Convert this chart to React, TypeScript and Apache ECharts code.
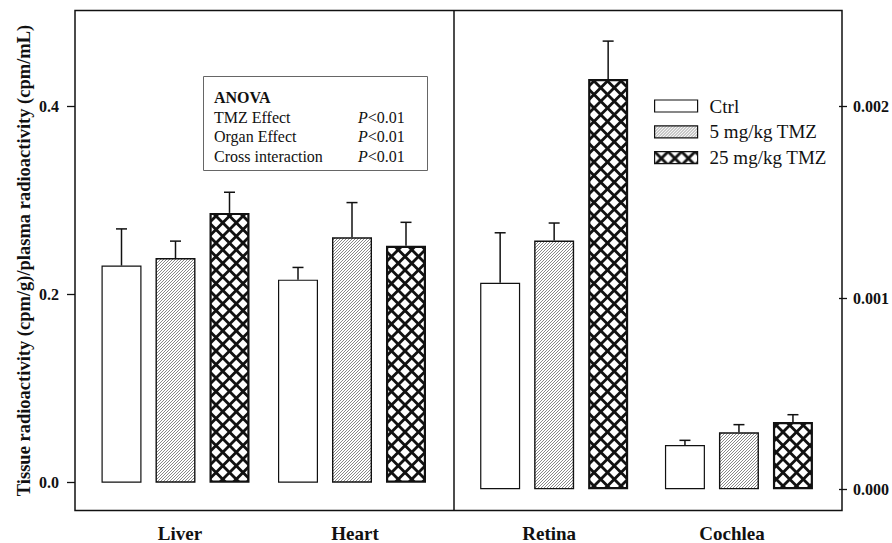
import React, { useEffect, useRef } from "react";
import * as echarts from "echarts";

// ---- data ----
const tissueCategories = ["Liver", "Heart"];
const earCategories = ["Retina", "Cochlea"];
const groupNames = ["Ctrl", "5 mg/kg TMZ", "25 mg/kg TMZ"];

// left axis, order: Liver, Heart
const ctrlTissue = [0.231, 0.216];
const ctrlTissueSem = [0.039, 0.013];
const tmz5Tissue = [0.239, 0.261];
const tmz5TissueSem = [0.018, 0.037];
const tmz25Tissue = [0.287, 0.252];
const tmz25TissueSem = [0.022, 0.025];

// right axis, order: Retina, Cochlea
const ctrlEar = [0.00108, 0.000232];
const ctrlEarSem = [0.000261, 0.000024];
const tmz5Ear = [0.0013, 0.000298];
const tmz5EarSem = [0.000092, 0.00004];
const tmz25Ear = [0.002145, 0.000352];
const tmz25EarSem = [0.000198, 0.000038];

const leftTicks = [0, 0.2, 0.4];
const rightTicks = [0, 0.001, 0.002];

const anovaTitle = "ANOVA";
const anovaEffects = ["TMZ Effect", "Organ Effect", "Cross interaction"];
const anovaP = ["<0.01", "<0.01", "<0.01"];

const yTitle = "Tissue radioactivity (cpm/g)/plasma radioactivity (cpm/mL)";

const FONT = '"Liberation Serif", "Times New Roman", serif';
const INK = "#111";

function makeHatch() {
  const s = 9;
  const c = document.createElement("canvas");
  c.width = s;
  c.height = s;
  const ctx = c.getContext("2d")!;
  ctx.fillStyle = "#fff";
  ctx.fillRect(0, 0, s, s);
  ctx.strokeStyle = "#555";
  ctx.lineWidth = 0.7;
  for (let x0 = -s; x0 <= s; x0 += 3) {
    ctx.beginPath();
    ctx.moveTo(x0, s);
    ctx.lineTo(x0 + s, 0);
    ctx.stroke();
  }
  return c;
}

function makeCross() {
  const s = 27;
  const step = 13.5;
  const c = document.createElement("canvas");
  c.width = s;
  c.height = s;
  const ctx = c.getContext("2d")!;
  ctx.fillStyle = "#fff";
  ctx.fillRect(0, 0, s, s);
  ctx.strokeStyle = INK;
  ctx.lineWidth = 2.8;
  for (let x0 = -s; x0 <= s; x0 += step) {
    ctx.beginPath();
    ctx.moveTo(x0, 0);
    ctx.lineTo(x0 + s, s);
    ctx.stroke();
    ctx.beginPath();
    ctx.moveTo(x0, s);
    ctx.lineTo(x0 + s, 0);
    ctx.stroke();
  }
  return c;
}

export default function App() {
  const ref = useRef<HTMLDivElement>(null);

  useEffect(() => {
    if (!ref.current) return;
    const chart = echarts.init(ref.current, undefined, { renderer: "svg" });

    const hatch = { image: makeHatch(), repeat: "repeat" };
    const cross = { image: makeCross(), repeat: "repeat" };

    const styles = [
      { color: "#fff", borderColor: INK, borderWidth: 1.2 },
      { color: hatch, borderColor: INK, borderWidth: 1.4 },
      { color: cross, borderColor: INK, borderWidth: 2.2 },
    ];

    const tissueVals = [ctrlTissue, tmz5Tissue, tmz25Tissue];
    const tissueSem = [ctrlTissueSem, tmz5TissueSem, tmz25TissueSem];
    const earVals = [ctrlEar, tmz5Ear, tmz25Ear];
    const earSem = [ctrlEarSem, tmz5EarSem, tmz25EarSem];

    const barSeries = (vals: number[][], axis: number) =>
      vals.map((v, i) => ({
        type: "bar",
        name: groupNames[i],
        xAxisIndex: axis,
        yAxisIndex: axis,
        data: v,
        barWidth: 40,
        barGap: "35%",
        itemStyle: styles[i],
        emphasis: { disabled: true },
        z: 2,
      }));

    const errData = (vals: number[][], sem: number[][]) => {
      const out: number[][] = [];
      vals.forEach((v, g) =>
        v.forEach((m, c) => out.push([c, g, m, sem[g][c]]))
      );
      return out;
    };

    const errSeries = (vals: number[][], sem: number[][], axis: number) => ({
      type: "custom",
      xAxisIndex: axis,
      yAxisIndex: axis,
      encode: { x: 0, y: 2 },
      data: errData(vals, sem),
      z: 3,
      silent: true,
      renderItem: (params: any, api: any) => {
        const cat = api.value(0);
        const g = api.value(1);
        const m = api.value(2);
        const e = api.value(3);
        const p0 = api.coord([cat, m]);
        const p1 = api.coord([cat, m + e]);
        const x = p0[0] + (g - 1) * 54;
        const st = { stroke: INK, lineWidth: 1.5 };
        return {
          type: "group",
          children: [
            { type: "line", shape: { x1: x, y1: p0[1], x2: x, y2: p1[1] }, style: st },
            { type: "line", shape: { x1: x - 5.5, y1: p1[1], x2: x + 5.5, y2: p1[1] }, style: st },
          ],
        };
      },
    });

    // small horizontal nudges of the category labels (as in the reference)
    const labelPads: Record<string, number[]> = {
      Liver: [0, 0, 0, 9],
      Heart: [0, 0, 0, 6],
      Retina: [0, 10, 0, 0],
      Cochlea: [0, 14, 0, 0],
    };

    const catAxis = (grid: number, data: string[]) => ({
      type: "category",
      gridIndex: grid,
      data: data.map((d) => ({ value: d, textStyle: { padding: labelPads[d] } })),
      axisLine: { show: false, onZero: false },
      axisTick: { show: false },
      axisLabel: {
        margin: 13,
        color: INK,
        fontFamily: FONT,
        fontWeight: "bold",
        fontSize: 19,
      },
    });

    const valAxis = (
      grid: number,
      pos: string,
      offset: number,
      min: number,
      max: number,
      ticks: number[],
      digits: number,
      margin: number
    ) => ({
      type: "value",
      gridIndex: grid,
      position: pos,
      offset,
      min,
      max,
      splitLine: { show: false },
      axisLine: { show: false },
      axisTick: {
        show: true,
        length: 8,
        inside: false,
        customValues: ticks,
        lineStyle: { color: INK, width: 1.3 },
      },
      axisLabel: {
        customValues: ticks,
        formatter: (v: number) => v.toFixed(digits),
        margin,
        color: INK,
        fontFamily: FONT,
        fontWeight: "bold",
        fontSize: 16,
      },
    });

    const leftAxis: any = valAxis(0, "left", 12.25, -0.02957, 0.50234, leftTicks, 1, 16);
    leftAxis.name = yTitle;
    leftAxis.nameLocation = "middle";
    leftAxis.nameRotate = 90;
    leftAxis.nameGap = 42;
    leftAxis.nameTextStyle = {
      fontFamily: FONT,
      fontWeight: "bold",
      fontSize: 18.5,
      color: INK,
    };

    const anovaChildren: any[] = [
      {
        type: "rect",
        shape: { x: 203.5, y: 76.5, width: 224, height: 94 },
        style: { fill: "#fff", stroke: "#666", lineWidth: 1 },
      },
      {
        type: "text",
        x: 214,
        y: 97,
        style: {
          text: anovaTitle,
          fontFamily: FONT,
          fontWeight: "bold",
          fontSize: 16,
          fill: INK,
          verticalAlign: "middle",
        },
      },
    ];
    anovaEffects.forEach((name, i) => {
      const y = 117 + i * 19.7;
      anovaChildren.push({
        type: "text",
        x: 214,
        y,
        style: { text: name, fontFamily: FONT, fontSize: 16, fill: INK, verticalAlign: "middle" },
      });
      anovaChildren.push({
        type: "text",
        x: 358,
        y,
        style: {
          text: "{i|P}" + anovaP[i],
          fontFamily: FONT,
          fontSize: 16,
          fill: INK,
          verticalAlign: "middle",
          rich: { i: { fontStyle: "italic", fontFamily: FONT, fontSize: 16, fill: INK } },
        },
      });
    });

    chart.setOption({
      animation: false,
      backgroundColor: "#fff",
      grid: [
        { left: 87.25, top: 10.5, width: 353, height: 500 },
        { left: 461.75, top: 10.5, width: 372.6, height: 500 },
      ],
      xAxis: [catAxis(0, tissueCategories), catAxis(1, earCategories)],
      yAxis: [
        leftAxis,
        valAxis(1, "right", 7.65, -0.0001108, 0.002503, rightTicks, 3, 14),
      ],
      legend: {
        data: groupNames,
        orient: "vertical",
        left: 654,
        top: 96.5,
        padding: 0,
        itemWidth: 43,
        itemHeight: 12,
        itemGap: 6.8,
        icon: "rect",
        selectedMode: false,
        itemStyle: { borderColor: INK, borderWidth: 1.2 },
        textStyle: {
          fontFamily: FONT,
          fontSize: 19,
          lineHeight: 18,
          color: INK,
          padding: [0, 0, 0, 7],
        },
      },
      graphic: [
        {
          type: "rect",
          shape: { x: 75, y: 10.5, width: 767, height: 500 },
          style: { fill: "none", stroke: INK, lineWidth: 1.5 },
          z: 10,
        },
        {
          type: "line",
          shape: { x1: 454, y1: 10.5, x2: 454, y2: 510.5 },
          style: { stroke: INK, lineWidth: 1.5 },
          z: 10,
        },
        { type: "group", children: anovaChildren, z: 5 },
      ],
      series: [
        ...barSeries(tissueVals, 0),
        ...barSeries(earVals, 1),
        errSeries(tissueVals, tissueSem, 0),
        errSeries(earVals, earSem, 1),
      ],
    } as any);

    return () => chart.dispose();
  }, []);

  return (
    <div
      ref={ref}
      style={{ position: "fixed", left: 0, top: 0, width: 892, height: 543, background: "#fff" }}
    />
  );
}
